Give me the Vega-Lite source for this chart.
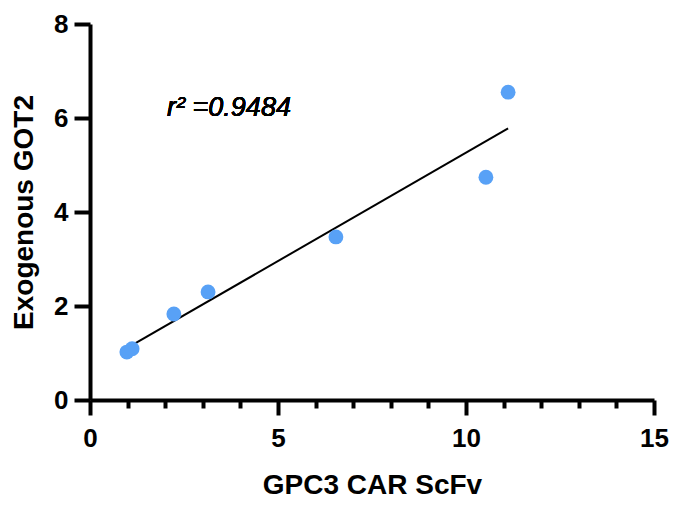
{
  "$schema": "https://vega.github.io/schema/vega-lite/v6.json",
  "width": 564,
  "height": 376,
  "autosize": {"type": "none"},
  "padding": {"left": 90, "top": 24, "right": 22, "bottom": 110},
  "background": "white",
  "config": {
    "view": {"stroke": null},
    "font": "Liberation Sans",
    "axis": {
      "grid": false,
      "domainColor": "black", "domainWidth": 4,
      "tickColor": "black", "tickWidth": 4,
      "labelFontSize": 26, "labelFontWeight": "bold", "labelColor": "black",
      "labelFlush": false, "labelBound": false, "labelOverlap": false,
      "titleFontWeight": "bold", "titleColor": "black"
    }
  },
  "data": {"values": [
    {"x": 0.98, "y": 1.02},
    {"x": 1.12, "y": 1.09},
    {"x": 2.23, "y": 1.83},
    {"x": 3.14, "y": 2.30},
    {"x": 6.54, "y": 3.47},
    {"x": 10.53, "y": 4.74},
    {"x": 11.12, "y": 6.55}
  ]},
  "resolve": {"axis": {"x": "independent"}},
  "layer": [
    {
      "transform": [{"regression": "y", "on": "x"}],
      "mark": {"type": "line", "color": "black", "strokeWidth": 2},
      "encoding": {
        "x": {"field": "x", "type": "quantitative",
          "scale": {"domain": [0, 15], "nice": false},
          "axis": {"orient": "bottom", "values": [1,2,3,4,6,7,8,9,11,12,13,14],
            "tickSize": 8, "labels": false, "domain": false, "title": null}},
        "y": {"field": "y", "type": "quantitative",
          "scale": {"domain": [0, 8], "nice": false},
          "axis": {"values": [0, 2, 4, 6, 8], "tickSize": 16, "labelPadding": 6,
            "title": "Exogenous GOT2", "titleFontSize": 28, "titlePadding": 15}}
      }
    },
    {
      "mark": {"type": "circle", "color": "#58A1F6", "opacity": 1, "size": 220},
      "encoding": {
        "x": {"field": "x", "type": "quantitative",
          "scale": {"domain": [0, 15], "nice": false},
          "axis": {"orient": "bottom", "values": [0, 5, 10, 15], "tickSize": 15,
            "labelPadding": 10, "title": "GPC3 CAR ScFv", "titleFontSize": 28, "titlePadding": 20}},
        "y": {"field": "y", "type": "quantitative",
          "scale": {"domain": [0, 8], "nice": false},
          "axis": {"values": [0, 2, 4, 6, 8], "tickSize": 16, "labelPadding": 6,
            "title": "Exogenous GOT2", "titleFontSize": 28, "titlePadding": 15}}
      }
    },
    {
      "mark": {"type": "text", "fontStyle": "italic", "fontWeight": "normal", "fontSize": 27, "align": "left", "baseline": "alphabetic", "color": "black"},
      "encoding": {
        "x": {"datum": 2.05, "type": "quantitative", "scale": {"domain": [0, 15], "nice": false}, "axis": null},
        "y": {"datum": 6.04, "type": "quantitative", "scale": {"domain": [0, 8], "nice": false},
          "axis": {"values": [0, 2, 4, 6, 8], "tickSize": 16, "labelPadding": 6,
            "title": "Exogenous GOT2", "titleFontSize": 28, "titlePadding": 15}},
        "text": {"value": "r² =0.9484"}
      }
    }
  ]
}
